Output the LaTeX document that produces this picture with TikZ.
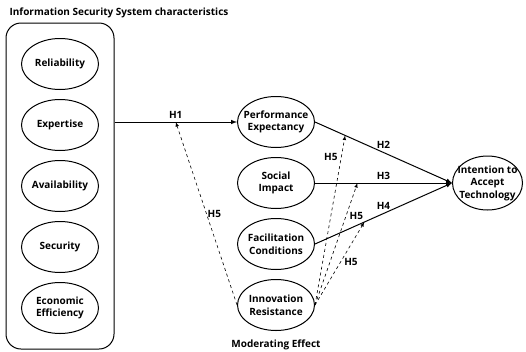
\documentclass[tikz,border=0pt]{standalone}
\usepackage{fontspec}
\setmainfont{Open Sans}
\usetikzlibrary{shapes.geometric, arrows.meta, positioning, calc, fit}

\begin{document}
\begin{tikzpicture}[
    x=1pt, y=-1pt,
    node distance=9pt,
    every node/.style={font=\bfseries\fontsize{10}{12.5}\selectfont},
    factor/.style={draw, line width=1pt, ellipse, minimum width=77pt, minimum height=51pt, inner xsep=-20pt, inner ysep=-10pt, align=center},
    target/.style={draw, line width=1pt, ellipse, minimum width=70pt, minimum height=54pt, inner xsep=-20pt, inner ysep=-12pt, align=center},
    group/.style={draw, line width=1pt, rounded corners=15pt, inner sep=15pt},
    arrow/.style={-latex, line width=1pt},
    modarrow/.style={-latex, semithick, dashed}
]
    \useasboundingbox (0,0) rectangle (526,351);

    \node[anchor=west] (title) at (6,13) {Information Security System characteristics};
    \node[factor] (rel) at (60,64) {Reliability};
    \node[factor, below=of rel] (exp) {Expertise};
    \node[factor, below=of exp] (avail) {Availability};
    \node[factor, below=of avail] (sec) {Security};
    \node[factor, below=of sec] (eco) {Economic\\Efficiency};
    \node[group, fit=(rel) (eco)] (sys) {};

    \node[factor] (pe) at (276,122) {Performance\\Expectancy};
    \node[factor, below=of pe] (si) {Social\\Impact};
    \node[factor, below=of si] (fc) {Facilitation\\Conditions};
    \node[factor, below=of fc] (ir) {Innovation\\Resistance};
    \node[below=5pt of ir] (mod) {Moderating Effect};
    \node[target, right=137pt of si] (int) {Intention to\\Accept\\Technology};

    \draw[arrow] (sys.east |- pe) -- coordinate[midway] (h1) node[midway, above] {H1} (pe.west);
    \draw[arrow] (pe.east) -- coordinate[pos=0.22] (h2) node[midway, above] {H2} (int.west);
    \draw[arrow] (si.east) -- coordinate[pos=0.31] (h3) node[midway, above] {H3} (int.west);
    \draw[arrow] (fc.east) -- coordinate[pos=0.36] (h4) node[midway, above] {H4} (int.west);

    \draw[modarrow] (ir.west) -- node[midway, right, inner sep=1pt] {H5} (h1);
    \draw[modarrow] (ir.east) -- node[pos=0.87, left] {H5} (h2);
    \draw[modarrow] (ir.east) -- node[pos=0.73, right] {H5} (h3);
    \draw[modarrow] (ir.east) -- node[pos=0.52, right] {H5} (h4);
\end{tikzpicture}
\end{document}
